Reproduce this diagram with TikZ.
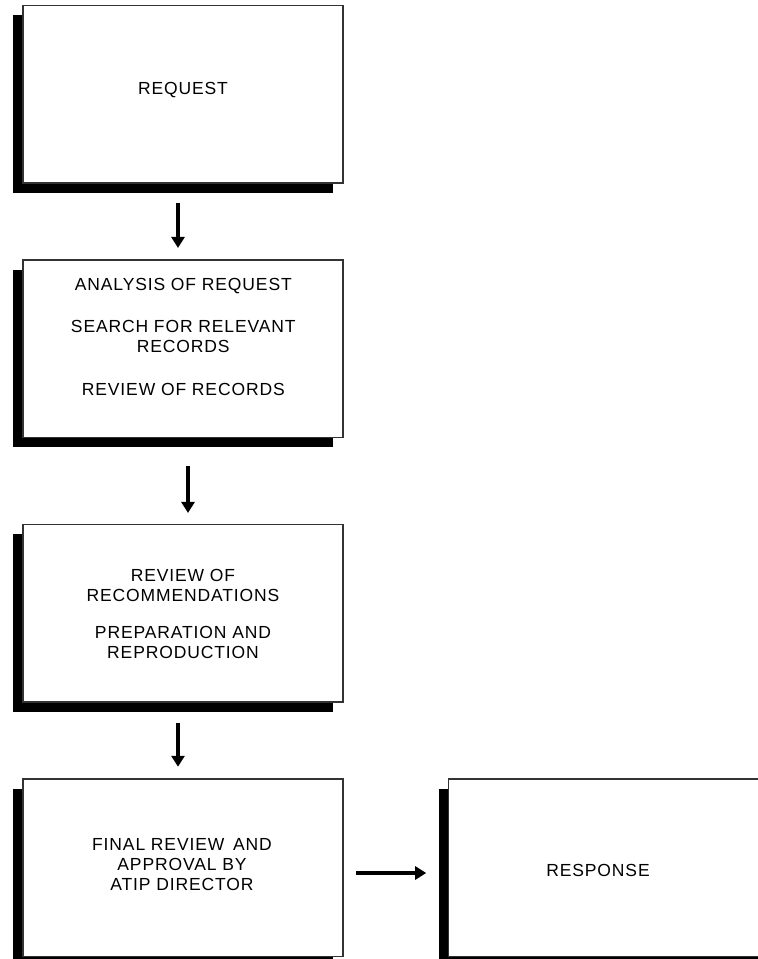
\documentclass[tikz,border=0pt]{standalone}
\usepackage{fontspec}
\setmainfont{Liberation Sans}[LetterSpace=5]
\usetikzlibrary{arrows.meta,backgrounds}
\begin{document}
\begin{tikzpicture}[x=1pt,y=-1pt,
  boxst/.style={draw=black!80, line width=1.5pt, fill=white, minimum width=320pt,
    minimum height=177.5pt, inner sep=0pt, outer sep=0pt},
  txt/.style={align=center, font=\fontsize{17.5}{20}\selectfont, inner sep=0pt},
  arr/.style={line width=3.3pt, -{Triangle[width=13pt,length=11pt]}}]
\useasboundingbox (0,0) rectangle (758,959);
\node[boxst] (b1) at (182.9,94) {};
\node[boxst] (b2) at (182.9,348.7) {};
\node[boxst] (b3) at (182.9,613) {};
\node[boxst] (b4) at (182.9,867.5) {};
\node[boxst] (b5) at (608.5,867.5) {};
\begin{scope}[on background layer]
  \foreach \b in {b1,b2,b3,b4,b5}
    \fill[black] ([shift={(-10,10)}]\b.north west) rectangle ([shift={(-10,10)}]\b.south east);
\end{scope}
\node[txt] (t1) at (183,90) {REQUEST};
\node[txt] (t2) at (183.3,336.8) {ANALYSIS OF REQUEST\\[22.7pt]SEARCH FOR RELEVANT\\RECORDS\\[22.6pt]REVIEW OF RECORDS};
\node[txt] (t3) at (183,613.7) {REVIEW OF\\RECOMMENDATIONS\\[17.3pt]PREPARATION AND\\REPRODUCTION};
\node[txt] (t4) at (182,864.2) {FINAL REVIEW\hspace{3pt} AND\\APPROVAL BY\\ATIP DIRECTOR};
\node[txt] (t5) at (598,870) {RESPONSE};
\draw[arr, shorten <=20pt, shorten >=12pt] ([xshift=-4.9pt]b1.south) -- ([xshift=-4.9pt]b2.north);
\draw[arr, shorten <=28.7pt, shorten >=11.3pt] ([xshift=5.1pt]b2.south) -- ([xshift=5.1pt]b3.north);
\draw[arr, shorten <=21.3pt, shorten >=12pt] ([xshift=-4.9pt]b3.south) -- ([xshift=-4.9pt]b4.north);
\draw[arr, shorten <=13pt, shorten >=22.3pt] ([yshift=-5.5pt]b4.east) -- ([yshift=-5.5pt]b5.west);
\end{tikzpicture}
\end{document}
